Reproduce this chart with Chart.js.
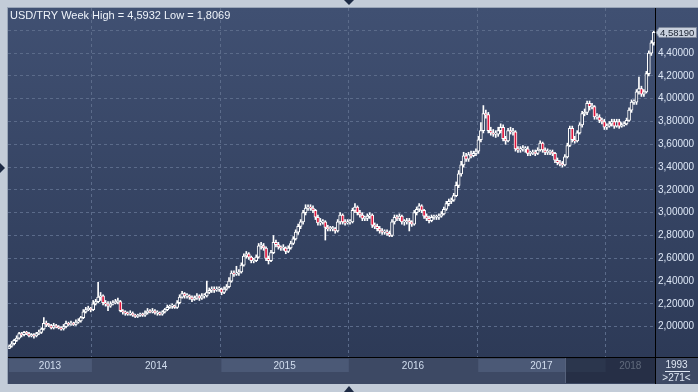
<!DOCTYPE html>
<html>
<head>
<meta charset="utf-8">
<script src="https://cdn.jsdelivr.net/npm/chart.js@4.4.0/dist/chart.umd.min.js"></script>
<style>
  html, body { margin: 0; padding: 0; background: #c3ccd8; }
  canvas { display: block; }
</style>
</head>
<body>
<canvas id="chart" width="698" height="392"></canvas>
<script>
// USD/TRY weekly candles, week of 2013-05-13 .. week of 2018-05-14
const firstWeek = [2013, 4, 13];
const years = ["2013", "2014", "2015", "2016", "2017", "2018"];
const yTickValues = [2.0, 2.2, 2.4, 2.6, 2.8, 3.0, 3.2, 3.4, 3.6, 3.8, 4.0, 4.2, 4.4, 4.6];

const open = [
  1.81,1.83,1.85,1.88,1.90,1.94,1.93,1.95,1.94,1.92,
  1.93,1.92,1.94,1.95,1.98,2.03,2.02,2.01,1.99,2.01,
  2.00,1.99,1.98,2.00,2.03,2.02,2.03,2.02,2.04,2.05,
  2.08,2.13,2.15,2.16,2.15,2.20,2.22,2.26,2.27,2.21,
  2.20,2.18,2.20,2.21,2.22,2.22,2.14,2.13,2.12,2.11,
  2.12,2.10,2.09,2.10,2.11,2.10,2.12,2.14,2.13,2.14,
  2.12,2.12,2.11,2.13,2.15,2.17,2.18,2.18,2.17,2.21,
  2.26,2.29,2.27,2.27,2.26,2.24,2.25,2.27,2.25,2.27,
  2.27,2.30,2.32,2.33,2.32,2.33,2.33,2.30,2.33,2.35,
  2.40,2.47,2.46,2.47,2.48,2.54,2.62,2.64,2.61,2.58,
  2.58,2.61,2.71,2.71,2.69,2.60,2.58,2.65,2.74,2.72,
  2.70,2.69,2.69,2.66,2.69,2.73,2.77,2.83,2.88,2.92,
  3.00,3.04,3.05,3.04,3.02,2.96,2.91,2.92,2.92,2.87,
  2.86,2.86,2.86,2.84,2.92,2.98,2.92,2.91,2.92,2.92,
  3.02,3.05,3.00,2.98,2.95,2.95,2.97,2.98,2.89,2.88,
  2.86,2.84,2.83,2.83,2.82,2.80,2.92,2.96,2.95,2.97,
  2.92,2.92,2.93,2.92,2.90,3.00,3.03,3.06,3.02,2.97,
  2.95,2.93,2.96,2.96,2.96,2.97,2.99,3.03,3.08,3.10,
  3.11,3.15,3.24,3.34,3.42,3.50,3.47,3.51,3.50,3.52,
  3.54,3.64,3.72,3.87,3.86,3.72,3.70,3.69,3.69,3.72,
  3.75,3.65,3.63,3.72,3.71,3.71,3.56,3.55,3.56,3.56,
  3.56,3.52,3.52,3.53,3.52,3.55,3.61,3.55,3.53,3.53,
  3.53,3.52,3.46,3.44,3.43,3.42,3.49,3.59,3.74,3.64,
  3.63,3.70,3.77,3.87,3.88,3.96,3.93,3.93,3.84,3.84,
  3.81,3.80,3.75,3.76,3.78,3.80,3.76,3.80,3.76,3.77,
  3.78,3.81,3.90,3.97,3.97,4.06,4.09,4.04,4.06,4.22,
  4.40,4.49
];
const high = [
  1.84,1.87,1.89,1.92,1.95,1.95,1.96,1.96,1.95,1.94,
  1.94,1.95,1.97,1.99,2.08,2.05,2.03,2.02,2.03,2.02,
  2.01,2.00,2.02,2.05,2.04,2.05,2.04,2.06,2.07,2.09,
  2.15,2.17,2.18,2.17,2.23,2.24,2.39,2.30,2.28,2.23,
  2.22,2.22,2.23,2.24,2.25,2.23,2.15,2.14,2.13,2.14,
  2.13,2.11,2.11,2.12,2.12,2.14,2.16,2.15,2.16,2.15,
  2.14,2.13,2.14,2.16,2.19,2.19,2.20,2.19,2.23,2.28,
  2.31,2.30,2.29,2.28,2.27,2.27,2.29,2.28,2.29,2.29,
  2.40,2.34,2.35,2.35,2.35,2.35,2.34,2.35,2.37,2.43,
  2.49,2.49,2.53,2.50,2.56,2.64,2.66,2.65,2.62,2.60,
  2.63,2.73,2.74,2.73,2.70,2.62,2.67,2.80,2.76,2.74,
  2.71,2.72,2.70,2.71,2.75,2.79,2.85,2.90,2.94,3.02,
  3.07,3.07,3.07,3.06,3.03,2.98,2.95,2.94,2.93,2.89,
  2.88,2.88,2.87,2.94,3.00,2.99,2.94,2.94,2.94,3.04,
  3.08,3.06,3.02,3.00,2.97,2.99,3.00,2.99,2.91,2.90,
  2.88,2.86,2.85,2.85,2.84,2.94,2.98,2.98,2.99,2.98,
  2.94,2.95,2.95,2.93,3.02,3.05,3.08,3.07,3.03,2.99,
  2.97,2.98,2.98,2.98,2.99,3.01,3.05,3.10,3.12,3.13,
  3.17,3.27,3.37,3.45,3.53,3.52,3.53,3.54,3.54,3.56,
  3.67,3.79,3.94,3.90,3.88,3.75,3.73,3.72,3.75,3.78,
  3.77,3.67,3.74,3.75,3.74,3.72,3.58,3.58,3.59,3.58,
  3.58,3.54,3.55,3.55,3.57,3.63,3.62,3.57,3.56,3.55,
  3.55,3.53,3.48,3.46,3.45,3.51,3.61,3.76,3.76,3.67,
  3.72,3.79,3.89,3.91,3.98,3.98,3.96,3.94,3.87,3.86,
  3.83,3.82,3.78,3.80,3.82,3.82,3.82,3.82,3.79,3.80,
  3.83,3.92,3.99,3.99,4.08,4.19,4.11,4.08,4.24,4.42,
  4.51,4.5932
];
const low = [
  1.8069,1.82,1.84,1.87,1.89,1.91,1.92,1.93,1.91,1.91,
  1.90,1.91,1.93,1.94,1.97,2.00,2.00,1.98,1.98,1.99,
  1.98,1.97,1.97,1.99,2.01,2.01,2.01,2.01,2.03,2.04,
  2.07,2.12,2.14,2.13,2.14,2.19,2.21,2.23,2.19,2.18,
  2.14,2.17,2.19,2.20,2.20,2.13,2.11,2.10,2.10,2.10,
  2.09,2.08,2.08,2.09,2.09,2.09,2.11,2.12,2.12,2.11,
  2.10,2.10,2.10,2.12,2.14,2.16,2.16,2.16,2.16,2.20,
  2.25,2.25,2.25,2.24,2.22,2.23,2.24,2.23,2.24,2.25,
  2.26,2.29,2.30,2.30,2.31,2.31,2.28,2.29,2.32,2.34,
  2.39,2.44,2.45,2.45,2.47,2.53,2.60,2.59,2.56,2.56,
  2.57,2.60,2.68,2.67,2.58,2.55,2.57,2.64,2.70,2.68,
  2.67,2.67,2.64,2.65,2.68,2.72,2.76,2.81,2.86,2.90,
  2.98,3.02,3.02,3.00,2.94,2.89,2.89,2.90,2.76,2.84,
  2.84,2.84,2.82,2.83,2.90,2.90,2.89,2.90,2.90,2.91,
  3.00,2.98,2.96,2.93,2.93,2.93,2.95,2.87,2.86,2.84,
  2.82,2.81,2.81,2.80,2.79,2.79,2.90,2.93,2.93,2.90,
  2.89,2.90,2.84,2.88,2.89,2.98,3.01,3.00,2.95,2.93,
  2.91,2.92,2.94,2.94,2.94,2.96,2.98,3.02,3.06,3.08,
  3.10,3.14,3.22,3.32,3.40,3.45,3.45,3.48,3.49,3.50,
  3.52,3.62,3.70,3.83,3.70,3.68,3.67,3.66,3.67,3.70,
  3.63,3.60,3.62,3.69,3.68,3.54,3.53,3.53,3.54,3.53,
  3.50,3.50,3.51,3.50,3.51,3.54,3.53,3.51,3.51,3.51,
  3.50,3.44,3.42,3.41,3.40,3.41,3.48,3.58,3.62,3.61,
  3.62,3.69,3.75,3.85,3.86,3.90,3.91,3.82,3.82,3.79,
  3.78,3.73,3.73,3.75,3.76,3.74,3.75,3.74,3.75,3.76,
  3.77,3.80,3.88,3.95,3.95,4.04,4.02,4.02,4.05,4.20,
  4.38,4.47
];
const close = [
  1.83,1.85,1.88,1.90,1.94,1.93,1.95,1.94,1.92,1.93,
  1.92,1.94,1.95,1.98,2.03,2.02,2.01,1.99,2.01,2.00,
  1.99,1.98,2.00,2.03,2.02,2.03,2.02,2.04,2.05,2.08,
  2.13,2.15,2.16,2.15,2.20,2.22,2.26,2.27,2.21,2.20,
  2.18,2.20,2.21,2.22,2.22,2.14,2.13,2.12,2.11,2.12,
  2.10,2.09,2.10,2.11,2.10,2.12,2.14,2.13,2.14,2.12,
  2.12,2.11,2.13,2.15,2.17,2.18,2.18,2.17,2.21,2.26,
  2.29,2.27,2.27,2.26,2.24,2.25,2.27,2.25,2.27,2.27,
  2.30,2.32,2.33,2.32,2.33,2.33,2.30,2.33,2.35,2.40,
  2.47,2.46,2.47,2.48,2.54,2.62,2.64,2.61,2.58,2.58,
  2.61,2.71,2.71,2.69,2.60,2.58,2.65,2.74,2.72,2.70,
  2.69,2.69,2.66,2.69,2.73,2.77,2.83,2.88,2.92,3.00,
  3.04,3.05,3.04,3.02,2.96,2.91,2.92,2.92,2.87,2.86,
  2.86,2.86,2.84,2.92,2.98,2.92,2.91,2.92,2.92,3.02,
  3.05,3.00,2.98,2.95,2.95,2.97,2.98,2.89,2.88,2.86,
  2.84,2.83,2.83,2.82,2.80,2.92,2.96,2.95,2.97,2.92,
  2.92,2.93,2.92,2.90,3.00,3.03,3.06,3.02,2.97,2.95,
  2.93,2.96,2.96,2.96,2.97,2.99,3.03,3.08,3.10,3.11,
  3.15,3.24,3.34,3.42,3.50,3.47,3.51,3.50,3.52,3.54,
  3.64,3.72,3.87,3.86,3.72,3.70,3.69,3.69,3.72,3.75,
  3.65,3.63,3.72,3.71,3.71,3.56,3.55,3.56,3.56,3.56,
  3.52,3.52,3.53,3.52,3.55,3.61,3.55,3.53,3.53,3.53,
  3.52,3.46,3.44,3.43,3.42,3.49,3.59,3.74,3.64,3.63,
  3.70,3.77,3.87,3.88,3.96,3.93,3.93,3.84,3.84,3.81,
  3.80,3.75,3.76,3.78,3.80,3.76,3.80,3.76,3.77,3.78,
  3.81,3.90,3.97,3.97,4.06,4.09,4.04,4.06,4.22,4.40,
  4.49,4.5819
];

// week start dates as categories
const weeks = [];
for (let i = 0; i < close.length; i++) {
  const d = new Date(Date.UTC(firstWeek[0], firstWeek[1], firstWeek[2] + 7 * i));
  weeks.push(d.toISOString().slice(0, 10));
}
const yearStarts = [];
weeks.forEach((w, i) => {
  if (i > 0 && w.slice(0, 4) !== weeks[i - 1].slice(0, 4)) yearStarts.push(i);
});

const FONT = '"Liberation Sans", Arial, sans-serif';
const RED = "#e0173d";
const HOLLOW = "#36435f";
const GRID = "#5b6b8a";

const fmt = v => v.toFixed(5).replace(".", ",");

const framePlugin = {
  id: "frame",
  beforeDraw(chart) {
    const { ctx, chartArea: a, width, height } = chart;
    ctx.save();
    ctx.fillStyle = "#c3ccd8";
    ctx.fillRect(0, 0, width, height);
    ctx.fillStyle = "#99a5b7";
    ctx.fillRect(a.left - 1, a.top - 1, width, 1);
    ctx.fillRect(a.left - 1, a.top - 1, 1, 384 - a.top + 1);
    const g = ctx.createLinearGradient(0, a.top, 0, a.bottom);
    g.addColorStop(0, "#405072");
    g.addColorStop(1, "#2d3a57");
    ctx.fillStyle = g;
    ctx.fillRect(a.left, a.top, width - a.left, a.bottom - a.top);
    ctx.restore();
  },
  afterDraw(chart) {
    const { ctx, chartArea: a, width } = chart;
    const x = chart.scales.x, y = chart.scales.y;
    const half = (x.getPixelForValue(1) - x.getPixelForValue(0)) / 2;
    const edges = [a.left, ...yearStarts.map(i => x.getPixelForValue(i) - half), a.right];
    ctx.save();

    // bottom time panel
    ctx.fillStyle = "#3d4964";
    ctx.fillRect(a.left, a.bottom, width - a.left, 384 - a.bottom);
    ctx.font = "10px " + FONT;
    ctx.textAlign = "center";
    ctx.textBaseline = "middle";
    years.forEach((yr, k) => {
      const x0 = edges[k], x1 = edges[k + 1];
      if (k % 2 === 0) {
        ctx.fillStyle = "#4b5976";
        ctx.fillRect(x0 + 1, a.bottom + 2, x1 - x0 - 1, 13);
      }
      ctx.fillStyle = "#d2deef";
      ctx.fillText(yr, (x0 + x1) / 2, a.bottom + 9);
    });
    ctx.fillStyle = "rgba(24,32,52,0.62)";
    ctx.fillRect(565, a.bottom + 1, a.right - 565, 384 - a.bottom - 2);
    ctx.fillStyle = "#56627c";
    ctx.fillRect(565, a.bottom + 1, 1, 384 - a.bottom - 2);

    // bottom right counter box
    ctx.fillStyle = "#dfe7f3";
    ctx.fillText("1993", (a.right + width) / 2, a.bottom + 8);
    ctx.fillRect(a.right + 10, a.bottom + 14, 25, 1);
    ctx.fillText(">271<", (a.right + width) / 2, a.bottom + 21);

    // black separators
    ctx.fillStyle = "#000";
    ctx.fillRect(a.left, a.bottom, width - a.left, 1);
    ctx.fillRect(a.right, a.top, 1, 384 - a.top);

    // title
    ctx.textAlign = "left";
    ctx.font = "11px " + FONT;
    ctx.fillStyle = "#eef3fa";
    ctx.fillText("USD/TRY Week High = " + fmt(Math.max(...high)).slice(0, 6) +
      " Low = " + fmt(Math.min(...low)).slice(0, 6), a.left + 2, a.top + 8);

    // last price tag
    const last = close[close.length - 1];
    const py = Math.round(y.getPixelForValue(last)) + 0.5;
    ctx.beginPath();
    ctx.moveTo(a.right + 1, py);
    ctx.lineTo(a.right + 4, py - 5);
    ctx.lineTo(width - 1.5, py - 5);
    ctx.lineTo(width - 1.5, py + 5);
    ctx.lineTo(a.right + 4, py + 5);
    ctx.closePath();
    ctx.fillStyle = "#c9d1de";
    ctx.fill();
    ctx.strokeStyle = "#7d889c";
    ctx.lineWidth = 1;
    ctx.stroke();
    ctx.fillStyle = "#17202f";
    ctx.font = "9.5px " + FONT;
    ctx.fillText(fmt(last), a.right + 5, py + 0.5);

    // frame arrows
    ctx.fillStyle = "#1d2a44";
    ctx.beginPath();
    ctx.moveTo(344, 0); ctx.lineTo(354, 0); ctx.lineTo(349, 5); ctx.fill();
    ctx.beginPath();
    ctx.moveTo(0, 163); ctx.lineTo(0, 173); ctx.lineTo(5, 168); ctx.fill();
    ctx.beginPath();
    ctx.moveTo(344, 392); ctx.lineTo(354, 392); ctx.lineTo(349, 386); ctx.fill();
    ctx.restore();
  }
};

const chart = new Chart(document.getElementById("chart"), {
  type: "bar",
  data: {
    labels: weeks,
    datasets: [
      {
        // candle bodies
        data: close.map((c, i) => [open[i], c]),
        backgroundColor: close.map((c, i) => (c < open[i] ? RED : HOLLOW)),
        borderColor: "#ffffff",
        borderWidth: 1,
        borderSkipped: false,
        barThickness: 3,
        minBarLength: 1,
        grouped: false,
        order: 1
      },
      {
        // wicks
        data: low.map((l, i) => [l, high[i]]),
        backgroundColor: "#ffffff",
        barThickness: 1,
        grouped: false,
        order: 2
      }
    ]
  },
  options: {
    responsive: false,
    animation: false,
    events: [],
    layout: { padding: { left: 8, top: 8, right: 0, bottom: 35 } },
    plugins: { legend: { display: false }, tooltip: { enabled: false } },
    scales: {
      x: {
        type: "category",
        offset: true,
        ticks: { display: false },
        grid: {
          drawTicks: false,
          color: c => (yearStarts.includes(c.index) ? GRID : "rgba(0,0,0,0)")
        },
        border: { display: false, dash: [3, 3] },
        afterFit: s => { s.height = 0; }
      },
      y: {
        position: "right",
        min: 1.734,
        max: 4.796,
        afterBuildTicks: s => { s.ticks = yTickValues.map(v => ({ value: v })); },
        afterFit: s => { s.width = 43; s.paddingTop = 0; s.paddingBottom = 0; },
        ticks: {
          padding: 3,
          color: "#dde7f6",
          font: { family: FONT, size: 10 },
          callback: v => (v > 4.5 ? "" : fmt(v))
        },
        grid: { drawTicks: false, color: GRID },
        border: { display: false, dash: [3, 3] }
      }
    }
  },
  plugins: [framePlugin]
});
</script>
</body>
</html>
